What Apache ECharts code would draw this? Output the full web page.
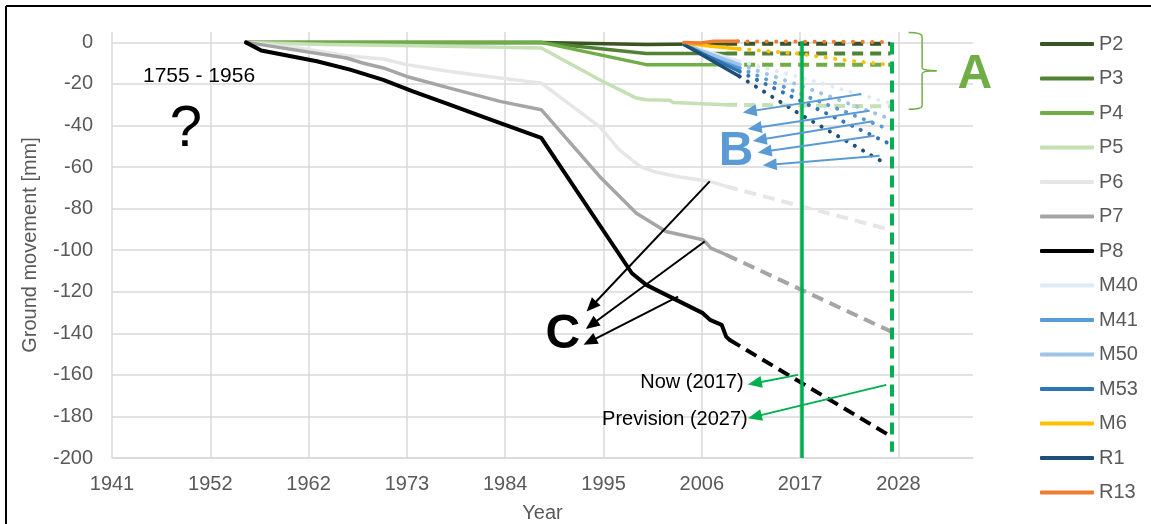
<!DOCTYPE html>
<html>
<head>
<meta charset="utf-8">
<script src="https://cdn.jsdelivr.net/npm/echarts@6/dist/echarts.min.js"></script>
<style>
  html, body { margin: 0; padding: 0; background: #ffffff; overflow: hidden; }
  #chart { width: 1151px; height: 524px; }
</style>
</head>
<body>
<div id="chart"></div>
<script>
// ---- Axis setup: date-style x axis, one major unit = 4000 days ----
const X_BASE = 1941.08;            // first tick ("1941")
const X_STEP = 4000 / 365.25;      // years per major unit
const X_END = 2037.0;
const Y_MIN = -200, Y_MAX = 5, Y_STEP = 20;

const NOW_YEAR = 2017.87;
const PREVISION_YEAR = 2027.9;

// ---- Series: [year, ground movement in mm] ----
const SERIES_NAMES = ['P2', 'P3', 'P4', 'P5', 'P6', 'P7', 'P8', 'M40', 'M41', 'M50', 'M53', 'M6', 'R1', 'R13'];
const SERIES_COLORS = ['#375623', '#548235', '#70AD47', '#C5E0B4', '#E7E6E6', '#A5A5A5', '#000000',
                       '#DEEBF7', '#5B9BD5', '#9DC3E6', '#2E75B6', '#FFC000', '#1F4E79', '#ED7D31'];

const P2 = [[1956.0, 0], [1988.9, 0], [2000.6, -1.0], [2009.5, -0.6]];
const P3 = [[1956.0, 0], [1988.9, 0], [2000.6, -5.4], [2009.5, -5.4]];
const P4 = [[1956.0, 0], [1988.9, 0], [2000.6, -10.7], [2009.5, -10.7]];
const P5 = [[1956.0, 0], [1965.0, -1.0], [1975.0, -1.6], [1988.9, -2.7], [1995.4, -18.0], [1999.5, -26.8],
            [2000.6, -27.6], [2003.2, -27.9], [2003.6, -28.9], [2009.5, -30.0]];
const P6 = [[1956.1, 0], [1962.0, -2.7], [1967.2, -6.4], [1971.3, -8.0], [1973.9, -10.7], [1978.7, -14.0],
            [1984.3, -17.1], [1988.9, -19.6], [1995.4, -40.5], [1997.6, -51.7], [1999.9, -59.7],
            [2001.4, -62.1], [2004.0, -64.5], [2007.7, -66.9], [2009.5, -69.3]];
const P7 = [[1956.1, 0], [1967.2, -7.5], [1969.0, -9.9], [1971.3, -12.3], [1973.9, -16.4], [1978.7, -22.0],
            [1984.3, -28.4], [1988.9, -32.4], [1995.4, -64.5], [1999.5, -82.2], [2002.8, -91.0],
            [2006.9, -95.0], [2007.3, -96.6], [2007.8, -99.0], [2009.5, -102.2]];
const P8 = [[1956.0, 0], [1957.7, -3.9], [1963.9, -9.1], [1967.6, -13.1], [1971.3, -18.0], [1974.6, -23.6],
            [1978.7, -30.0], [1982.8, -36.4], [1988.9, -46.0], [1999.0, -111.1], [2000.6, -116.7],
            [2001.7, -119.1], [2006.9, -130.3], [2007.7, -133.5], [2009.0, -135.9], [2009.5, -141.6],
            [2009.9, -143.2]];
const M40 = [[2004.8, -1.0], [2011.0, -9.1]];
const M41 = [[2004.8, -1.0], [2011.0, -12.3]];
const M50 = [[2004.8, -1.0], [2011.0, -10.7]];
const M53 = [[2004.8, -1.0], [2011.0, -14.0]];
const M6  = [[2004.8, -0.3], [2007.8, -1.9], [2011.0, -3.2]];
const R1  = [[2004.8, -1.0], [2011.0, -16.4]];
const R13 = [[2004.8, 0], [2006.7, -0.3], [2008.1, 0.5], [2010.8, 0.5]];

// ---- Forecasts to 2027 ----
const P2_FC = [[2009.5, -0.6], [2027.8, -0.6]];
const P3_FC = [[2009.5, -5.4], [2027.8, -5.4]];
const P4_FC = [[2009.5, -10.7], [2027.8, -10.7]];
const P5_FC = [[2009.5, -30.0], [2027.8, -30.8]];
const P6_FC = [[2009.5, -69.3], [2027.8, -90.2]];
const P7_FC = [[2009.5, -102.2], [2027.9, -139.2]];
const P8_FC = [[2009.9, -143.2], [2027.9, -189.7]];
const M40_FC = [[2011.0, -9.1], [2017.9, -17.0], [2027.7, -29.2]];
const M41_FC = [[2011.0, -12.3], [2017.9, -25.0], [2027.7, -42.0]];
const M50_FC = [[2011.0, -10.7], [2017.9, -21.0], [2027.5, -36.4]];
const M53_FC = [[2011.0, -14.0], [2017.9, -28.4], [2027.5, -48.4]];
const M6_FC  = [[2011.0, -3.2], [2013.2, -3.9], [2017.7, -5.5], [2022.4, -8.4], [2027.5, -10.7]];
const R1_FC  = [[2011.0, -16.4], [2017.9, -35.0], [2027.5, -58.9]];
const R13_FC = [[2010.8, 0.5], [2027.5, 0.2]];

const MEASURED = [P2, P3, P4, P5, P6, P7, P8, M40, M41, M50, M53, M6, R1, R13];
const FORECAST = [P2_FC, P3_FC, P4_FC, P5_FC, P6_FC, P7_FC, P8_FC, M40_FC, M41_FC, M50_FC, M53_FC, M6_FC, R1_FC, R13_FC];

// ---- Annotation arrows [fromYear, fromMm, toYear, toMm] ----
const ARROWS_C = [[2007.67, -66.9, 1994.49, -127.1], [2007.11, -95.8, 1994.49, -135.9], [2004.14, -122.3, 1994.31, -144.0]];
const ARROWS_B = [[2024.55, -24.8, 2012.12, -33.2], [2025.48, -32.9, 2012.68, -41.2], [2025.85, -38.0, 2013.24, -46.9],
                  [2026.04, -44.9, 2013.79, -52.5], [2026.6, -54.6, 2014.35, -58.9]];
const ARROWS_NOW = [[2017.5, -160.0, 2012.69, -164.0], [2027.34, -164.8, 2012.69, -180.1]];

const GREEN = '#00B050';
const GRID_COLOR = '#D9D9D9';
const TEXT_COLOR = '#595959';
const FONT = '"Liberation Sans", Arial, sans-serif';

const toAxis = pts => pts.map(p => [p[0] - X_BASE, p[1]]);

function dashFor(i) {
  if (i <= 3) return { type: [11, 7], cap: 'butt' };
  if (i <= 6) return { type: [12, 7], cap: 'butt' };
  return { type: [0.1, 9.5], cap: 'round' };
}

const series = [];
SERIES_NAMES.forEach((name, i) => {
  series.push({
    name: name, type: 'line', data: toAxis(MEASURED[i]), color: SERIES_COLORS[i],
    symbol: 'none', silent: true, z: 3,
    lineStyle: { width: i === 6 ? 4 : 3.5, color: SERIES_COLORS[i], join: 'round', cap: 'round' }
  });
});
SERIES_NAMES.forEach((name, i) => {
  const d = dashFor(i);
  series.push({
    name: name + ' forecast', type: 'line', data: toAxis(FORECAST[i]), color: SERIES_COLORS[i],
    symbol: 'none', silent: true, z: 2,
    lineStyle: { width: 4, color: SERIES_COLORS[i], type: d.type, cap: d.cap }
  });
});

function arrowLines(list) {
  return list.map(a => [{ coord: [a[0] - X_BASE, a[1]] }, { coord: [a[2] - X_BASE, a[3]] }]);
}
function markerSeries(name, color, width, data, symbols, type) {
  return {
    name: name, type: 'line', data: [], silent: true, z: 5,
    markLine: {
      silent: true, animation: false, symbol: symbols, symbolSize: [12, 14],
      label: { show: false }, emphasis: { disabled: true },
      lineStyle: { color: color, width: width, type: type || 'solid' },
      data: data
    }
  };
}
series.push(markerSeries('now-line', GREEN, 3.5,
  [[{ coord: [NOW_YEAR - X_BASE, 0.5] }, { coord: [NOW_YEAR - X_BASE, -200] }]], ['none', 'none']));
series.push(markerSeries('prevision-line', GREEN, 4,
  [[{ coord: [PREVISION_YEAR - X_BASE, 0] }, { coord: [PREVISION_YEAR - X_BASE, -197] }]], ['none', 'none'], [12, 7]));
series.push(markerSeries('arrows-c', '#000000', 2, arrowLines(ARROWS_C), ['none', 'triangle']));
series.push(markerSeries('arrows-b', '#5B9BD5', 2, arrowLines(ARROWS_B), ['none', 'triangle']));
series.push(markerSeries('arrows-now', GREEN, 2, arrowLines(ARROWS_NOW), ['none', 'triangle']));

const chart = echarts.init(document.getElementById('chart'), null, { renderer: 'canvas' });

chart.setOption({
  animation: false,
  backgroundColor: '#ffffff',
  textStyle: { fontFamily: FONT },
  grid: { left: 112, right: 178, top: 32, bottom: 66, containLabel: false, outerBoundsMode: 'none' },
  legend: {
    data: SERIES_NAMES,
    orient: 'vertical', left: 1035, top: 28,
    icon: 'roundRect', itemWidth: 54, itemHeight: 4, itemGap: 12.5,
    selectedMode: false,
    textStyle: { color: TEXT_COLOR, fontSize: 20, lineHeight: 22, fontFamily: FONT }
  },
  xAxis: {
    type: 'value', min: 0, max: X_END - X_BASE, interval: X_STEP,
    name: 'Year', nameLocation: 'middle', nameGap: 45,
    nameTextStyle: { color: TEXT_COLOR, fontSize: 20, fontFamily: FONT },
    axisLine: { show: true, onZero: false, lineStyle: { color: GRID_COLOR, width: 1.5 } },
    axisTick: { show: false },
    axisLabel: {
      color: TEXT_COLOR, fontSize: 20, margin: 16, showMaxLabel: false, fontFamily: FONT,
      formatter: v => String(Math.floor(v + X_BASE + 1e-6))
    },
    splitLine: { show: true, showMaxLine: false, lineStyle: { color: GRID_COLOR, width: 1.5 } }
  },
  yAxis: {
    type: 'value', min: Y_MIN, max: Y_MAX, interval: Y_STEP,
    name: 'Ground movement [mm]', nameLocation: 'middle', nameGap: 72,
    nameTextStyle: { color: TEXT_COLOR, fontSize: 20, fontFamily: FONT },
    axisLine: { show: false }, axisTick: { show: false },
    axisLabel: { color: TEXT_COLOR, fontSize: 20, margin: 19, showMaxLabel: false, fontFamily: FONT },
    splitLine: { show: true, showMaxLine: false, lineStyle: { color: GRID_COLOR, width: 1.5 } }
  },
  series: series
});

// ---- Text labels and the "A" brace, anchored in data space ----
const px = (yr, mm) => chart.convertToPixel({ gridIndex: 0 }, [yr - X_BASE, mm]);

const TEXTS = [
  { text: '1755 - 1956', at: [1944.53, -16.4], align: 'left', size: 21, color: '#000000', weight: 'normal' },
  { text: '?', at: [1949.32, -42.0], align: 'center', size: 58, color: '#000000', weight: 'normal' },
  { text: 'A', at: [2037.2, -15.6], align: 'center', size: 48, color: '#70AD47', weight: 'bold' },
  { text: 'B', at: [2010.6, -52.7], align: 'center', size: 48, color: '#5B9BD5', weight: 'bold' },
  { text: 'C', at: [1991.3, -140.8], align: 'center', size: 48, color: '#000000', weight: 'bold' },
  { text: 'Now (2017)', at: [2011.45, -163.9], align: 'right', size: 20, color: '#000000', weight: 'normal' },
  { text: 'Prevision (2027)', at: [2011.9, -181.7], align: 'right', size: 20, color: '#000000', weight: 'normal' }
];

const graphics = TEXTS.map(t => {
  const p = px(t.at[0], t.at[1]);
  return {
    type: 'text', x: p[0], y: p[1], z: 100, silent: true,
    style: { text: t.text, fill: t.color, font: t.weight + ' ' + t.size + 'px ' + FONT,
             align: t.align, verticalAlign: 'middle' }
  };
});

// brace: outer x, spine x, tip x; top, top curl, mid-top, tip, mid-bottom, bottom curl, bottom
const BRACE_X = [2029.83, 2031.33, 2032.94];
const BRACE_Y = [4.7, 2.7, -12.2, -13.6, -15.1, -30.5, -32.2];
const b = (xi, yi) => px(BRACE_X[xi], BRACE_Y[yi]);
const braceStyle = { stroke: '#70AD47', lineWidth: 1.5, fill: 'none' };
function curve(p1, cp, p2) {
  return { type: 'bezierCurve', z: 100, silent: true,
           shape: { x1: p1[0], y1: p1[1], cpx1: cp[0], cpy1: cp[1], x2: p2[0], y2: p2[1] }, style: braceStyle };
}
function seg(p1, p2, style) {
  return { type: 'line', z: 100, silent: true,
           shape: { x1: p1[0], y1: p1[1], x2: p2[0], y2: p2[1] }, style: style };
}
graphics.push(curve(b(0, 0), b(1, 0), b(1, 1)));
graphics.push(seg(b(1, 1), b(1, 2), braceStyle));
graphics.push(curve(b(1, 2), b(1, 3), b(2, 3)));
graphics.push(curve(b(2, 3), b(1, 3), b(1, 4)));
graphics.push(seg(b(1, 4), b(1, 5), braceStyle));
graphics.push(curve(b(1, 5), b(1, 6), b(0, 6)));

// outer frame: left and top edges of the figure border
const frameStyle = { stroke: '#000000', lineWidth: 2 };
graphics.push(seg([6, 6], [1151, 6], frameStyle));
graphics.push(seg([6, 6], [6, 524], frameStyle));

chart.setOption({ graphic: graphics });
</script>
</body>
</html>
